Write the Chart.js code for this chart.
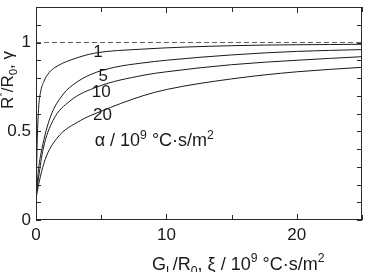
<!DOCTYPE html>
<html>
<head>
<meta charset="utf-8">
<script src="https://cdn.jsdelivr.net/npm/chart.js@4"></script>
<style>
html,body{margin:0;padding:0;background:#fff;}
#wrap{width:370px;height:272px;position:relative;}
</style>
</head>
<body>
<div id="wrap"><canvas id="c" width="370" height="272"></canvas></div>
<script>
// ---- data ----
const alphaLabels = ['1', '5', '10', '20'];
const c1x = [0, 0.1, 0.2, 0.35, 0.6, 1, 1.7, 3, 4.5, 8, 15, 25];
const c1y = [0.12, 0.46, 0.63, 0.72, 0.78, 0.83, 0.87, 0.91, 0.94, 0.962, 0.982, 0.99];
const c5x = [0, 0.2, 0.45, 1.1, 2.1, 3, 4.2, 6, 8.2, 10, 15, 20, 25];
const c5y = [0.13, 0.29, 0.40, 0.58, 0.71, 0.77, 0.82, 0.86, 0.885, 0.90, 0.93, 0.95, 0.96];
const c10x = [0, 0.2, 0.55, 1.3, 2.6, 4.7, 8.2, 10, 15, 20, 25];
const c10y = [0.13, 0.24, 0.40, 0.56, 0.67, 0.75, 0.815, 0.835, 0.875, 0.90, 0.92];
const c20x = [0, 0.2, 0.7, 1.6, 3.4, 4.9, 8.2, 10, 15, 20, 25];
const c20y = [0.12, 0.20, 0.34, 0.46, 0.56, 0.61, 0.70, 0.735, 0.795, 0.835, 0.86];
const refX = [0, 25];
const refY = [1, 1];
const xTickLabels = [0, 10, 20];
const yTickLabels = [0, 0.5, 1];

const zip = (xs, ys) => xs.map((x, i) => ({x: x, y: ys[i]}));
const FONT = '"Liberation Sans", Arial, Helvetica, sans-serif';
const FS = 17;
const FT = 18;

function drawRich(ctx, parts, x, y, size) {
  let cx = x;
  parts.forEach(p => {
    let fs = size, dy = 0;
    if (p.s === 'sub') { fs = size * 0.68; dy = size * 0.25; }
    if (p.s === 'sup') { fs = size * 0.68; dy = -size * 0.42; }
    ctx.font = fs + 'px ' + FONT;
    ctx.fillText(p.t, cx, y + dy);
    cx += ctx.measureText(p.t).width;
  });
  return cx - x;
}
function richWidth(ctx, parts, size) {
  let w = 0;
  parts.forEach(p => {
    const fs = (p.s ? size * 0.68 : size);
    ctx.font = fs + 'px ' + FONT;
    w += ctx.measureText(p.t).width;
  });
  return w;
}

const decor = {
  id: 'decor',
  afterDraw(chart) {
    const ctx = chart.ctx;
    const a = chart.chartArea;
    const xs = chart.scales.x, ys = chart.scales.y;
    ctx.save();
    // frame
    ctx.strokeStyle = '#2a2a2a';
    ctx.lineWidth = 1;
    ctx.strokeRect(Math.round(a.left) + 0.5, Math.round(a.top) + 0.5,
                   Math.round(a.right - a.left) - 1, Math.round(a.bottom - a.top) - 1);
    // inward ticks
    ctx.beginPath();
    ys.ticks.forEach(t => {
      const py = Math.round(ys.getPixelForValue(t.value)) + 0.5;
      ctx.moveTo(a.left, py); ctx.lineTo(a.left + 5, py);
      ctx.moveTo(a.right, py); ctx.lineTo(a.right - 5, py);
    });
    xs.ticks.forEach(t => {
      const px = Math.round(xs.getPixelForValue(t.value)) + 0.5;
      const len = (Math.abs(t.value % 10) < 1e-6) ? 6 : 5;
      ctx.moveTo(px, a.bottom); ctx.lineTo(px, a.bottom - len);
      ctx.moveTo(px, a.top); ctx.lineTo(px, a.top + len);
    });
    ctx.stroke();

    ctx.fillStyle = '#1a1a1a';
    ctx.textBaseline = 'alphabetic';
    // curve labels (placed in data coordinates)
    const labPos = [[4.75, 0.92], [5.15, 0.785], [5.0, 0.695], [5.1, 0.565]];
    ctx.textAlign = 'center';
    ctx.font = FS + 'px ' + FONT;
    alphaLabels.forEach((l, i) => {
      ctx.fillText(l, xs.getPixelForValue(labPos[i][0]), ys.getPixelForValue(labPos[i][1]));
    });
    ctx.textAlign = 'left';
    // alpha note
    drawRich(ctx, [{t: 'α / 10'}, {t: '9', s: 'sup'}, {t: ' °C·s/m'}, {t: '2', s: 'sup'}],
             xs.getPixelForValue(4.5), ys.getPixelForValue(0.415), FT);
    // x title
    drawRich(ctx, [{t: 'G'}, {t: 'L', s: 'sub'}, {t: '/R'}, {t: '0', s: 'sub'}, {t: ', ξ / 10'},
                   {t: '9', s: 'sup'}, {t: ' °C·s/m'}, {t: '2', s: 'sup'}], 152, 270, FT);
    // y title (rotated)
    const yparts = [{t: 'R'}, {t: '*', s: 'sup'}, {t: '/R'}, {t: '0', s: 'sub'}, {t: ', γ'}];
    const w = richWidth(ctx, yparts, FS);
    ctx.translate(13, 80);
    ctx.rotate(-Math.PI / 2);
    drawRich(ctx, yparts, -w / 2, 0, FS);
    ctx.restore();
  }
};

const lineDs = (label, data) => ({
  label: label, data: data, borderColor: '#1a1a1a', borderWidth: 1,
  pointRadius: 0, fill: false, cubicInterpolationMode: 'monotone'
});

new Chart(document.getElementById('c'), {
  type: 'line',
  data: {
    datasets: [
      {label: 'ref', data: zip(refX, refY), borderColor: '#666', borderWidth: 1,
       borderDash: [5, 3], pointRadius: 0, fill: false},
      lineDs('1', zip(c1x, c1y)),
      lineDs('5', zip(c5x, c5y)),
      lineDs('10', zip(c10x, c10y)),
      lineDs('20', zip(c20x, c20y))
    ]
  },
  options: {
    responsive: false,
    animation: false,
    devicePixelRatio: 1,
    layout: {padding: {top: 7, right: 8, left: 0, bottom: 0}},
    plugins: {legend: {display: false}, tooltip: {enabled: false}},
    scales: {
      x: {
        type: 'linear', min: 0, max: 25,
        grid: {display: false, drawTicks: false},
        border: {display: false},
        ticks: {
          stepSize: 5, autoSkip: false, maxRotation: 0, padding: 5,
          color: '#1a1a1a', font: {family: FONT, size: FS},
          callback: v => xTickLabels.some(t => Math.abs(t - v) < 1e-6) ? String(v) : ''
        },
        afterFit: s => { s.height = 52; s.paddingLeft = 0; s.paddingRight = 0; }
      },
      y: {
        type: 'linear', min: 0, max: 1.2,
        grid: {display: false, drawTicks: false},
        border: {display: false},
        ticks: {
          stepSize: 0.1, autoSkip: false, padding: 5,
          color: '#1a1a1a', font: {family: FONT, size: FS},
          callback: v => {
            const m = yTickLabels.find(t => Math.abs(t - v) < 1e-6);
            return m === undefined ? '' : String(m);
          }
        },
        afterFit: s => { s.width = 36; s.paddingTop = 0; s.paddingBottom = 0; }
      }
    }
  },
  plugins: [decor]
});
</script>
</body>
</html>
